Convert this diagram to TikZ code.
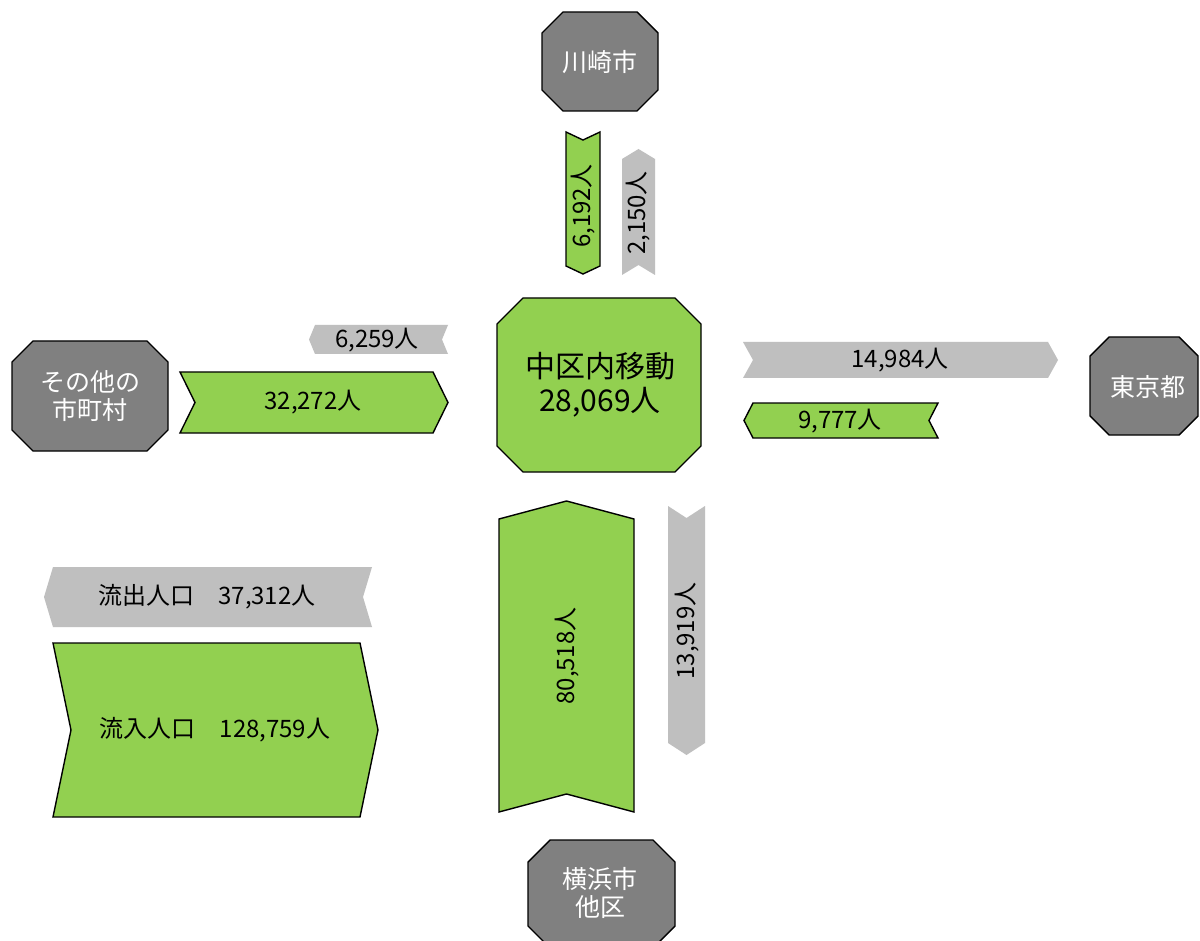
\documentclass[tikz,border=0pt]{standalone}
\usepackage{fontspec}
\setmainfont{Noto Sans CJK JP}
\definecolor{flowgreen}{HTML}{92D050}
\definecolor{flowgray}{HTML}{BFBFBF}
\definecolor{areagray}{HTML}{808080}
\tikzset{
  greenflow/.style={fill=flowgreen,draw=black,line width=1.4pt,line join=miter},
  grayflow/.style={fill=flowgray,draw=none},
  areabox/.style={fill=areagray,draw=black,line width=1.4pt},
  centerbox/.style={fill=flowgreen,draw=black,line width=1.4pt},
  arealabel/.style={text=white,font=\fontsize{25}{28}\selectfont,align=center,inner sep=0pt},
  flowlabel/.style={text=black,font=\fontsize{24}{28}\selectfont,align=center,inner sep=0pt},
  centerlabel/.style={text=black,font=\fontsize{30}{34}\selectfont,align=center,inner sep=0pt}
}
% octagon: x1,y1,x2,y2,cut
\newcommand\octshape[6]{\path[#1] ({#2+#6},#3) -- ({#4-#6},#3) -- (#4,{#3+#6}) -- (#4,{#5-#6}) -- ({#4-#6},#5) -- ({#2+#6},#5) -- (#2,{#5-#6}) -- (#2,{#3+#6}) -- cycle;}
% right pointing chevron
\newcommand\rchev[6]{\path[#1] (#2,#3) -- ({#4-#6},#3) -- (#4,{(#3+#5)/2}) -- ({#4-#6},#5) -- (#2,#5) -- ({#2+#6},{(#3+#5)/2}) -- cycle;}
% left pointing chevron
\newcommand\lchev[6]{\path[#1] ({#2+#6},#3) -- (#4,#3) -- ({#4-#6},{(#3+#5)/2}) -- (#4,#5) -- ({#2+#6},#5) -- (#2,{(#3+#5)/2}) -- cycle;}
% down pointing chevron
\newcommand\dchev[6]{\path[#1] (#2,#3) -- ({(#2+#4)/2},{#3+#6}) -- (#4,#3) -- (#4,{#5-#6}) -- ({(#2+#4)/2},#5) -- (#2,{#5-#6}) -- cycle;}
% up pointing chevron
\newcommand\uchev[6]{\path[#1] (#2,{#3+#6}) -- ({(#2+#4)/2},#3) -- (#4,{#3+#6}) -- (#4,#5) -- ({(#2+#4)/2},{#5-#6}) -- (#2,#5) -- cycle;}
\begin{document}
\begin{tikzpicture}[x=1pt,y=-1pt]
\useasboundingbox (0,0) rectangle (1200,941);
\fill[white] (0,0) rectangle (1200,941);
% area octagons
\octshape{areabox}{542}{12}{658}{111}{21}
\octshape{areabox}{12}{341}{168}{451}{21}
\octshape{areabox}{1090}{337}{1198}{435}{19}
\octshape{areabox}{528}{840}{675}{948}{22}
\octshape{centerbox}{497}{298}{701}{472}{26}
% flows
\dchev{greenflow}{566}{132}{600}{274}{8}
\uchev{grayflow}{622}{149}{655}{275}{10}
\lchev{grayflow}{309}{325}{448}{354}{6}
\rchev{greenflow}{180}{372}{448}{433}{15}
\rchev{grayflow}{743}{342}{1058}{378}{10}
\lchev{greenflow}{744}{403}{938}{438}{9}
\uchev{greenflow}{499}{501}{634}{812}{18}
\dchev{grayflow}{668}{506}{705}{755}{12}
\lchev{grayflow}{44}{567}{372}{627}{9}
\rchev{greenflow}{53}{643}{378}{817}{18}
% labels
\node[arealabel] (kawasaki) at (600,62) {川崎市};
\node[arealabel] (sonota) at (90,396) {その他の\\市町村};
\node[arealabel] (tokyo) at (1148,387) {東京都};
\node[arealabel] (yokohama) at (600,893) {横浜市\\他区};
\node[centerlabel] (center) at (600,385) {中区内移動\\28,069人};
\node[flowlabel,rotate=90] (kin) at (583,206) {6,192人};
\node[flowlabel,rotate=90] (kout) at (638,213) {2,150人};
\node[flowlabel] (sout) at (377,340) {6,259人};
\node[flowlabel] (sin) at (313,402) {32,272人};
\node[flowlabel] (tout) at (900,360) {14,984人};
\node[flowlabel] (tin) at (840,421) {9,777人};
\node[flowlabel,rotate=90] (yin) at (567,656) {80,518人};
\node[flowlabel,rotate=90] (yout) at (687,631) {13,919人};
\node[flowlabel] (totalout) at (207,597) {流出人口　37,312人};
\node[flowlabel] (totalin) at (215,730) {流入人口　128,759人};
\end{tikzpicture}
\end{document}
